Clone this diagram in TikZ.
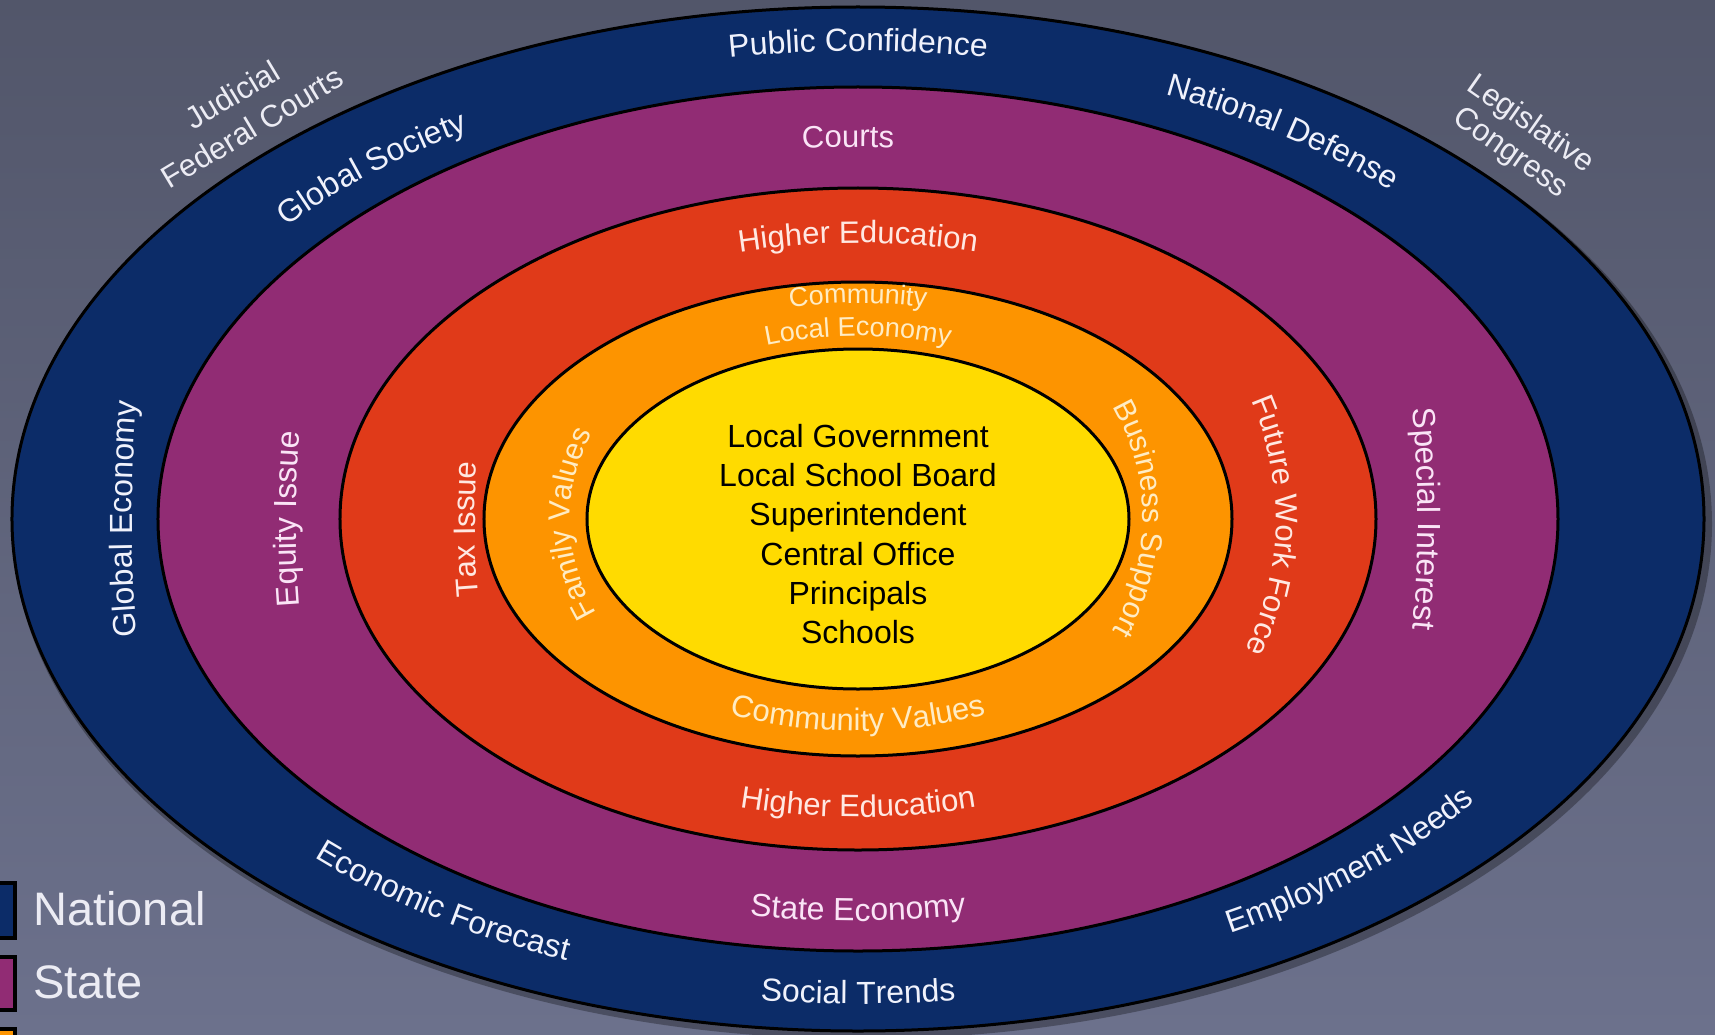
\documentclass[tikz,border=0pt]{standalone}
\usepackage{fontspec}
\setmainfont{Liberation Sans}
\newfontfamily\lblfont{Liberation Sans}
\usetikzlibrary{decorations.text}

\definecolor{bgtop}{RGB}{82,86,106}
\definecolor{bgbot}{RGB}{108,113,140}
\definecolor{navyc}{RGB}{12,44,104}
\definecolor{purplec}{RGB}{145,44,116}
\definecolor{redc}{RGB}{224,58,25}
\definecolor{orangec}{RGB}{253,148,0}
\definecolor{yellowc}{RGB}{255,219,0}
\definecolor{navytext}{RGB}{240,242,252}
\definecolor{purpletext}{RGB}{250,228,246}
\definecolor{redtext}{RGB}{255,232,226}
\definecolor{orangetext}{RGB}{255,236,196}
\definecolor{outtext}{RGB}{236,236,244}

% clockwise label along an elliptic arc: rx, ry, centre angle, half span, size, colour, text
\newcommand{\cwtext}[7]{%
  \path[decorate,decoration={text along path,text align=center,text color=#6,
      text={|\lblfont\fontsize{#5}{#5}\selectfont|#7}}]
    ({#1*cos(#3+#4)},{#2*sin(#3+#4)})
    arc[start angle={#3+#4},end angle={#3-#4},x radius=#1,y radius=#2];}
% counter-clockwise label (bottom of the rings)
\newcommand{\ccwtext}[7]{%
  \path[decorate,decoration={text along path,text align=center,text color=#6,
      text={|\lblfont\fontsize{#5}{#5}\selectfont|#7}}]
    ({#1*cos(#3-#4)},{#2*sin(#3-#4)})
    arc[start angle={#3-#4},end angle={#3+#4},x radius=#1,y radius=#2];}

\begin{document}
\begin{tikzpicture}[x=1pt,y=1pt,
  ring/.style={draw=black,line width=3pt},
  legendbox/.style={draw=black,line width=4pt},
  legendlabel/.style={anchor=base west,inner sep=0pt,text=outtext,font=\fontsize{47}{47}\selectfont},
  outlabel/.style={align=center,text=outtext,inner sep=0pt}]

\useasboundingbox (-858,-515) rectangle (857,519);
\shade[top color=bgtop,bottom color=bgbot] (-858,-515) rectangle (857,519);

% soft shadow
\fill[black,opacity=0.3] (4,-5) ellipse [x radius=850,y radius=515];

% rings
\fill[navyc,ring] (0,0) ellipse [x radius=846,y radius=512];
\fill[purplec,ring] (0,0) ellipse [x radius=700,y radius=432];
\fill[redc,ring] (0,0) ellipse [x radius=518,y radius=331];
\fill[orangec,ring] (0,0) ellipse [x radius=374,y radius=237];
\fill[yellowc,ring] (0,0) ellipse [x radius=271,y radius=170];

% national ring
\cwtext{762}{468}{90}{20}{32}{navytext}{Public Confidence}
\ccwtext{796}{485}{270}{20}{32}{navytext}{Social Trends}
\cwtext{726}{1000}{180}{30}{32}{navytext}{Global Economy}
\cwtext{744}{456}{132}{20}{32}{navytext}{Global Society}
\cwtext{752}{465}{54.5}{20}{32}{navytext}{National Defense}
\ccwtext{772}{477}{235.7}{20}{32}{navytext}{Economic Forecast}
\ccwtext{770}{473}{312}{20}{32}{navytext}{Employment Needs}

% state ring
\cwtext{590}{372}{91}{20}{31}{purpletext}{Courts}
\ccwtext{645}{402}{270}{20}{32}{purpletext}{State Economy}
\cwtext{562}{800}{180}{20}{32}{purpletext}{Equity Issue}
\cwtext{560}{800}{0}{20}{32}{purpletext}{Special Interest}

% red ring
\cwtext{465}{276}{90}{25}{31}{redtext}{Higher Education}
\ccwtext{467}{298}{270}{25}{31}{redtext}{Higher Education}
\cwtext{383}{600}{181}{20}{31}{redtext}{Tax Issue}
\cwtext{418}{350}{359}{50}{31}{redtext}{Future Work Force}

% orange ring
\cwtext{341}{216}{90}{20}{27}{orangetext}{Community}
\cwtext{290}{183}{90}{25}{27}{orangetext}{Local Economy}
\ccwtext{330}{212}{270}{30}{31}{orangetext}{Community Values}
\cwtext{285}{250}{0}{55}{30}{orangetext}{Business Support}
\cwtext{288}{224}{181}{55}{30}{orangetext}{Family Values}

% core
\node[align=center,text=black,font=\fontsize{32}{39.3}\selectfont] (core) at (0,-15)
  {Local Government\\Local School Board\\Superintendent\\Central Office\\Principals\\Schools};

% outside labels
\node[outlabel,rotate=31,font=\fontsize{31}{38}\selectfont] (judicial) at (-616,408) {Judicial\\Federal Courts};
\node[outlabel,rotate=-35,font=\fontsize{31}{35}\selectfont] (legislative) at (662,380) {Legislative\\Congress};

% legend
\filldraw[fill=navyc,legendbox] (-885,-364) rectangle (-843,-419);
\node[legendlabel] (natl) at (-825,-406) {National};
\filldraw[fill=purplec,legendbox] (-885,-438) rectangle (-843,-491);
\node[legendlabel] (state) at (-825,-479) {State};
\filldraw[fill=orangec,legendbox] (-885,-510) rectangle (-843,-560);
\end{tikzpicture}
\end{document}
